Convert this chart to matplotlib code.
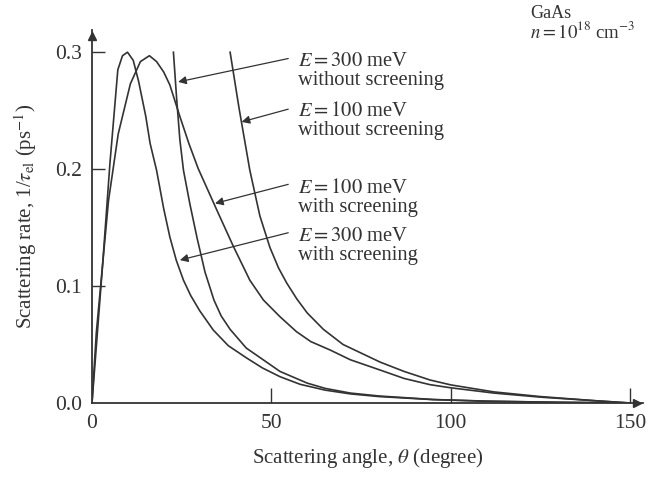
import numpy as np
import matplotlib
matplotlib.use("Agg")
import matplotlib.pyplot as plt

plt.rcParams['font.family'] = ['Liberation Serif', 'DejaVu Serif']
plt.rcParams['mathtext.fontset'] = 'stix'

# scattering angle (degree) and rate (1/ps)
theta_300_scr = [0, 1, 3, 5, 7.2, 8.5, 9.9, 11.5, 13, 15, 16.2, 18, 20, 21.7, 23.5,
                 25.5, 27.5, 30, 33.8, 38, 43.1, 47.5, 52.4, 58, 65, 72, 80, 95,
                 110, 130, 150]
rate_300_scr = [0, 0.04, 0.12, 0.205, 0.285, 0.297, 0.300, 0.293, 0.275, 0.245,
                0.222, 0.199, 0.166, 0.142, 0.122, 0.105, 0.092, 0.079, 0.0624,
                0.049, 0.0385, 0.030, 0.0225, 0.016, 0.011, 0.0078, 0.0055, 0.0029,
                0.0015, 0.0006, 0]

theta_300_noscr = [22.7, 23.6, 24.5, 25.5, 27.3, 29.3, 31.5, 34, 36, 38.5, 43, 47.8,
                   52.4, 60, 65, 72, 80, 95, 110, 130, 150]
rate_300_noscr = [0.300, 0.26, 0.225, 0.199, 0.170, 0.141, 0.112, 0.088, 0.0745,
                  0.063, 0.047, 0.0368, 0.027, 0.017, 0.0125, 0.0085, 0.006, 0.003,
                  0.0016, 0.0006, 0]

theta_100_scr = [0, 1.2, 4.6, 7.3, 10.7, 13.5, 16, 18, 20, 21.7, 24.5, 27, 29.6,
                 34.8, 39.4, 44.0, 47.8, 52.4, 57, 61, 66.4, 72, 80.3, 87, 94.2,
                 100, 112, 125, 140, 150]
rate_100_scr = [0, 0.06, 0.173, 0.23, 0.273, 0.292, 0.297, 0.292, 0.283, 0.272,
                0.245, 0.222, 0.2005, 0.165, 0.134, 0.105, 0.088, 0.0738, 0.061,
                0.0525, 0.0453, 0.037, 0.0282, 0.021, 0.0157, 0.013, 0.0085,
                0.005, 0.002, 0]

theta_100_noscr = [38.5, 41, 44.0, 46.8, 49.6, 52, 54.3, 57.1, 60, 64.5, 70, 80.3,
                   87, 94.2, 100, 112, 125, 140, 150]
rate_100_noscr = [0.300, 0.252, 0.199, 0.160, 0.133, 0.1155, 0.1025, 0.089, 0.077,
                  0.063, 0.050, 0.035, 0.027, 0.0197, 0.0155, 0.0095, 0.0055,
                  0.002, 0]

labels = ["$E = 300$ meV\nwithout screening", "$E = 100$ meV\nwithout screening",
          "$E = 100$ meV\nwith screening", "$E = 300$ meV\nwith screening"]
text_y = [0.2839, 0.2408, 0.1749, 0.1343]
arrow_tips = [(24.0, 0.2746), (41.7, 0.2404), (34.3, 0.1707), (24.5, 0.1222)]
arrow_tails = [(54.7, 0.2946), (54.7, 0.2513), (54.7, 0.187), (54.7, 0.1456)]

line_c = '#333333'

fig = plt.figure(figsize=(6.5, 4.79), dpi=100)
ax = fig.add_axes([92 / 650, 1 - 403 / 479, (643 - 92) / 650, (403 - 30) / 479])

for th, r in [(theta_300_scr, rate_300_scr), (theta_300_noscr, rate_300_noscr),
              (theta_100_scr, rate_100_scr), (theta_100_noscr, rate_100_noscr)]:
    ax.plot(th, r, color=line_c, lw=1.2)

ax.set_xlim(0, 153.6)
ax.set_ylim(0, 0.319)
ax.spines['top'].set_visible(False)
ax.spines['right'].set_visible(False)
for s in ['left', 'bottom']:
    ax.spines[s].set_color(line_c)
    ax.spines[s].set_linewidth(1.3)

# axis arrow heads
ax.plot(0.99, 0, '>', color=line_c, ms=6, transform=ax.transAxes, clip_on=False)
ax.plot(0, 0.985, '^', color=line_c, ms=6, transform=ax.transAxes, clip_on=False)

ax.set_xticks([0, 50, 100, 150])
ax.set_yticks([0.0, 0.1, 0.2, 0.3])
ax.set_yticklabels(['0.0', '0.1', '0.2', '0.3'])
ax.tick_params(axis='x', direction='in', length=11, width=1, color=line_c,
               labelsize=15.5, pad=8, labelcolor='#333333')
ax.tick_params(axis='y', direction='in', length=9, width=1, color=line_c,
               labelsize=15.5, pad=7, labelcolor='#333333')
ax.xaxis.get_major_ticks()[0].tick1line.set_visible(False)
ax.yaxis.get_major_ticks()[0].tick1line.set_visible(False)

ax.set_xlabel(r"Scattering angle, $\theta$ (degree)", fontsize=15, color='#333333',
              labelpad=9)
ax.set_ylabel(r"Scattering rate, 1/$\tau_{\rm el}$ (ps$^{-1}$)", fontsize=15,
              color='#333333', labelpad=12)

for lab, tip, tail, ty in zip(labels, arrow_tips, arrow_tails, text_y):
    ax.annotate("", xy=tip, xytext=tail,
                arrowprops=dict(arrowstyle='-|>', color=line_c, lw=0.9,
                                mutation_scale=12, shrinkA=0, shrinkB=0))
    ax.text(57.4, ty, lab, fontsize=14.8, color='#333333', ha='left', va='center',
            linespacing=1.0, clip_on=False)

fig.text(530 / 650, 1 - 13 / 479, "GaAs", fontsize=13, color='#333333', va='center')
fig.text(530 / 650, 1 - 31 / 479, r"$n = 10^{18}$ cm$^{-3}$", fontsize=13.5,
         color='#333333', va='center')

fig.savefig("out.png", dpi=100)
